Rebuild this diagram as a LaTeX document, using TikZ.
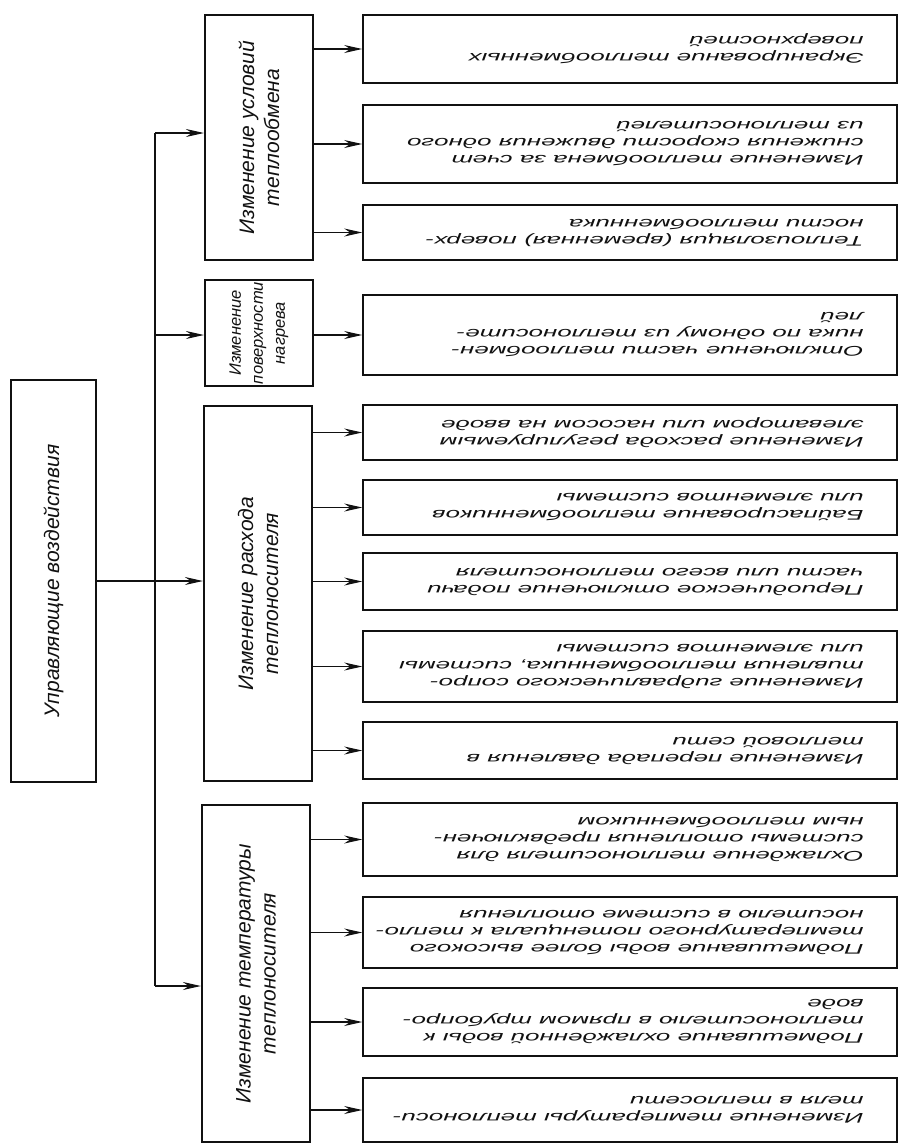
\documentclass[tikz,border=0pt]{standalone}
\usepackage{fontspec}
\usepackage{tikz}
\usetikzlibrary{arrows.meta}
\setmainfont{Liberation Sans}
\newfontfamily\leaffont{Liberation Sans}[FakeStretch=1.85]
\definecolor{ink}{HTML}{111111}
\tikzset{
  rootbox/.style={draw=ink, line width=1.8pt, minimum width=85pt, minimum height=402pt, inner sep=0pt},
  grpbox/.style={draw=ink, line width=2.2pt, minimum width=108pt, inner sep=0pt},
  leafbox/.style={draw=ink, line width=1.6pt, minimum width=534pt, inner sep=0pt},
  bus/.style={draw=ink, line width=2pt},
  arr/.style={draw=ink, line width=1.1pt, -{Stealth[length=18pt,width=8pt,inset=6pt]}},
  grptxt/.style={rotate=90, align=center, inner sep=0pt, text=ink, font=\itshape\fontsize{21}{25}\selectfont},
  smalltxt/.style={grptxt, font=\itshape\fontsize{16.5}{22}\selectfont},
  leaftxt/.style={rotate=180, anchor=west, align=left, inner sep=0pt, text=ink, font=\leaffont\itshape\fontsize{14}{17}\selectfont},
}
\begin{document}
\begin{tikzpicture}[x=1pt, y=-1pt]
\useasboundingbox (0,0) rectangle (899,1144);
% root and groups
\node[rootbox] (root) at (53.5,581) {};
\node[grptxt] (roott) at (root.center) {Управляющие воздействия};
\node[grpbox, minimum height=245pt] (g1) at (259,137.5) {};
\node[grpbox, minimum height=106pt] (g2) at (259,333) {};
\node[grpbox, minimum height=375pt] (g3) at (258,593.5) {};
\node[grpbox, minimum height=337pt] (g4) at (256,973.5) {};
\node[grptxt] (g1t) at (g1.center) {Изменение условий\\теплообмена};
\node[smalltxt] (g2t) at (g2.center) {Изменение\\поверхности\\нагрева};
\node[grptxt] (g3t) at (g3.center) {Изменение расхода\\теплоносителя};
\node[grptxt] (g4t) at (g4.center) {Изменение температуры\\теплоносителя};
% bus
\coordinate (b1) at (155,133);
\coordinate (b2) at (155,335);
\coordinate (b4) at (155,986);
\draw[bus] (b1) -- (b4);
\draw[arr] (b1) -- (b1 -| g1.west);
\draw[arr] (b2) -- (b2 -| g2.west);
\draw[arr] (b4) -- (b4 -| g4.west);
\draw[arr] (root.east) -- (root.east -| g3.west);
% leaves
\node[leafbox, minimum height=68pt] (l1) at (630,49) {};
\node[leafbox, minimum height=78pt] (l2) at (630,144) {};
\node[leafbox, minimum height=55pt] (l3) at (630,232.5) {};
\node[leafbox, minimum height=80pt] (l4) at (630,335) {};
\node[leafbox, minimum height=55pt] (l5) at (630,432.5) {};
\node[leafbox, minimum height=55pt] (l6) at (630,507.5) {};
\node[leafbox, minimum height=57pt] (l7) at (630,581.5) {};
\node[leafbox, minimum height=71pt] (l8) at (630,666.5) {};
\node[leafbox, minimum height=57pt] (l9) at (630,750.5) {};
\node[leafbox, minimum height=73pt] (l10) at (630,839.5) {};
\node[leafbox, minimum height=71pt] (l11) at (630,932.5) {};
\node[leafbox, minimum height=68pt] (l12) at (630,1022) {};
\node[leafbox, minimum height=64pt] (l13) at (630,1110) {};
\foreach \g/\l in {g1/l1,g1/l2,g1/l3,g2/l4,g3/l5,g3/l6,g3/l7,g3/l8,g3/l9,g4/l10,g4/l11,g4/l12,g4/l13}
  \draw[arr] (\l.west -| \g.east) -- (\l.west);
\node[leaftxt] (t1) at ([xshift=-34pt]l1.east) {Экранирование теплообменных\\поверхностей};
\node[leaftxt] (t2) at ([xshift=-34pt]l2.east) {Изменение теплообмена за счет\\снижения скорости движения одного\\из теплоносителей};
\node[leaftxt] (t3) at ([xshift=-34pt]l3.east) {Теплоизоляция (временная) поверх-\\ности теплообменника};
\node[leaftxt] (t4) at ([xshift=-34pt]l4.east) {Отключение части теплообмен-\\ника по одному из теплоносите-\\лей};
\node[leaftxt] (t5) at ([xshift=-34pt]l5.east) {Изменение расхода регулируемым\\элеватором или насосом на вводе};
\node[leaftxt] (t6) at ([xshift=-34pt]l6.east) {Байпасирование теплообменников\\или элементов системы};
\node[leaftxt] (t7) at ([xshift=-34pt]l7.east) {Периодическое отключение подачи\\части или всего теплоносителя};
\node[leaftxt] (t8) at ([xshift=-34pt]l8.east) {Изменение гидравлического сопро-\\тивления теплообменника, системы\\или элементов системы};
\node[leaftxt] (t9) at ([xshift=-34pt]l9.east) {Изменение перепада давления в\\тепловой сети};
\node[leaftxt] (t10) at ([xshift=-34pt]l10.east) {Охлаждение теплоносителя для\\системы отопления предвключен-\\ным теплообменником};
\node[leaftxt] (t11) at ([xshift=-34pt]l11.east) {Подмешивание воды более высокого\\температурного потенциала к тепло-\\носителю в системе отопления};
\node[leaftxt] (t12) at ([xshift=-34pt]l12.east) {Подмешивание охлажденной воды к\\теплоносителю в прямом трубопро-\\воде};
\node[leaftxt] (t13) at ([xshift=-34pt]l13.east) {Изменение температуры теплоноси-\\теля в теплосети};
\end{tikzpicture}
\end{document}
